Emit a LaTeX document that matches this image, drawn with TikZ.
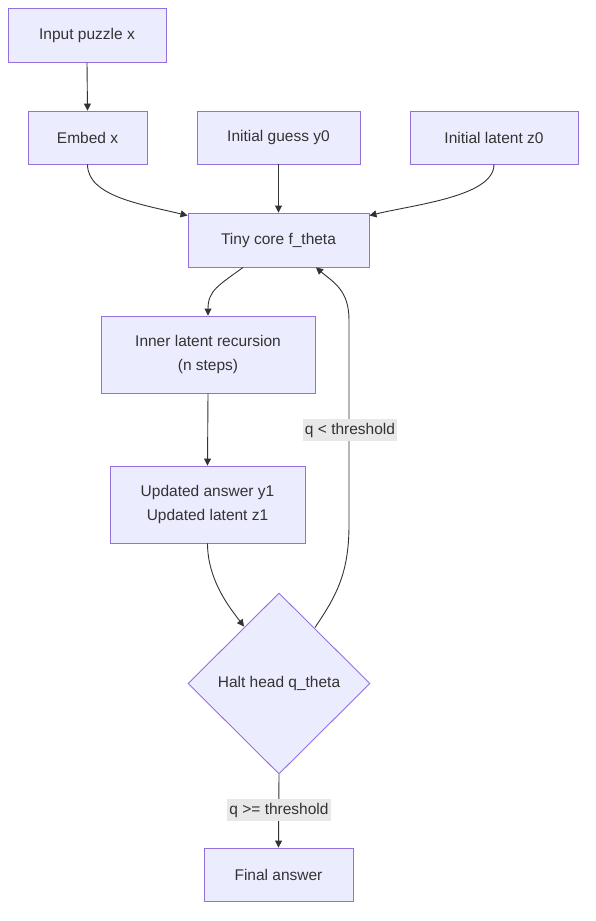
\documentclass[tikz,border=0pt]{standalone}
\usepackage{fontspec}
\setmainfont{Liberation Sans}
\usetikzlibrary{shapes.geometric,arrows.meta,calc}
\definecolor{nfill}{HTML}{ECECFF}
\definecolor{nborder}{HTML}{9370DB}
\definecolor{ink}{HTML}{333333}
\definecolor{lblbg}{HTML}{E8E8E8}
\tikzset{
  box/.style={draw=nborder, fill=nfill, line width=0.9pt, text=ink, font=\fontsize{15.5}{24}\selectfont, align=center, inner sep=0pt},
  dmd/.style={diamond, draw=nborder, fill=nfill, line width=0.9pt, text=ink, font=\fontsize{15.5}{24}\selectfont, inner sep=0pt},
  conn/.style={draw=ink, line width=0.9pt, -{Triangle[length=7pt,width=7pt]}},
  lbl/.style={fill=lblbg, text=ink, font=\fontsize{15.5}{21}\selectfont, inner sep=2pt, minimum height=22pt}
}
\begin{document}
\begin{tikzpicture}[x=1pt,y=-1pt]
\useasboundingbox[fill=white] (0,0) rectangle (595,921);
\node[box, minimum width=158pt, minimum height=54pt] (inp) at (87,35) {Input puzzle x};
\node[box, minimum width=119pt, minimum height=53pt] (emb) at (87.5,137.5) {Embed x};
\node[box, minimum width=163pt, minimum height=53pt] (guess) at (278.5,137.5) {Initial guess y0};
\node[box, minimum width=168pt, minimum height=53pt] (lat) at (494,137.5) {Initial latent z0};
\node[box, minimum width=181pt, minimum height=54pt] (core) at (278.5,240) {Tiny core f\_theta};
\node[box, minimum width=214pt, minimum height=77pt] (inner) at (208,354.5) {Inner latent recursion\\(n steps)};
\node[box, minimum width=195pt, minimum height=77pt] (upd) at (207.5,504.5) {Updated answer y1\\Updated latent z1};
\node[dmd, minimum width=182pt, minimum height=181pt] (halt) at (279,683.5) {Halt head q\_theta};
\node[box, minimum width=149pt, minimum height=53pt] (fin) at (278.5,874.5) {Final answer};

\draw[conn] (inp.south) -- (emb.north);
\draw[conn] (emb.south) .. controls ($(emb.south)+(0,32)$) and ($(core.north west)+(-45,-8)$) .. ($(core.north west)+(0,3)$);
\draw[conn] (guess.south) -- (core.north);
\draw[conn] (lat.south) .. controls ($(lat.south)+(0,32)$) and ($(core.north east)+(45,-8)$) .. ($(core.north east)+(0,3)$);
\draw[conn] ($(core.south)+(-35.5,0)$) .. controls ($(core.south)+(-60,18)$) and ($(inner.north)+(0,-25)$) .. (inner.north);
\draw[conn] (inner.south) -- (upd.north);
\draw[conn] (upd.south) .. controls ($(upd.south)+(0,38)$) and ($(halt.north)+(-47,18)$) .. ($(halt.north)+(-35,34)$);
\draw[conn] ($(halt.north)+(36,35)$) .. controls ($(halt.north)+(56,5)$) and (349,575) .. (349,525)
  -- (349,320) .. controls (349,290) and ($(core.south)+(55,15)$) .. ($(core.south)+(37.5,0)$);
\node[lbl] (lt) at (350,430) {q < threshold};
\draw[conn] (halt.south) -- (fin.north);
\node[lbl] (ge) at (279,810) {q >= threshold};
\end{tikzpicture}
\end{document}
